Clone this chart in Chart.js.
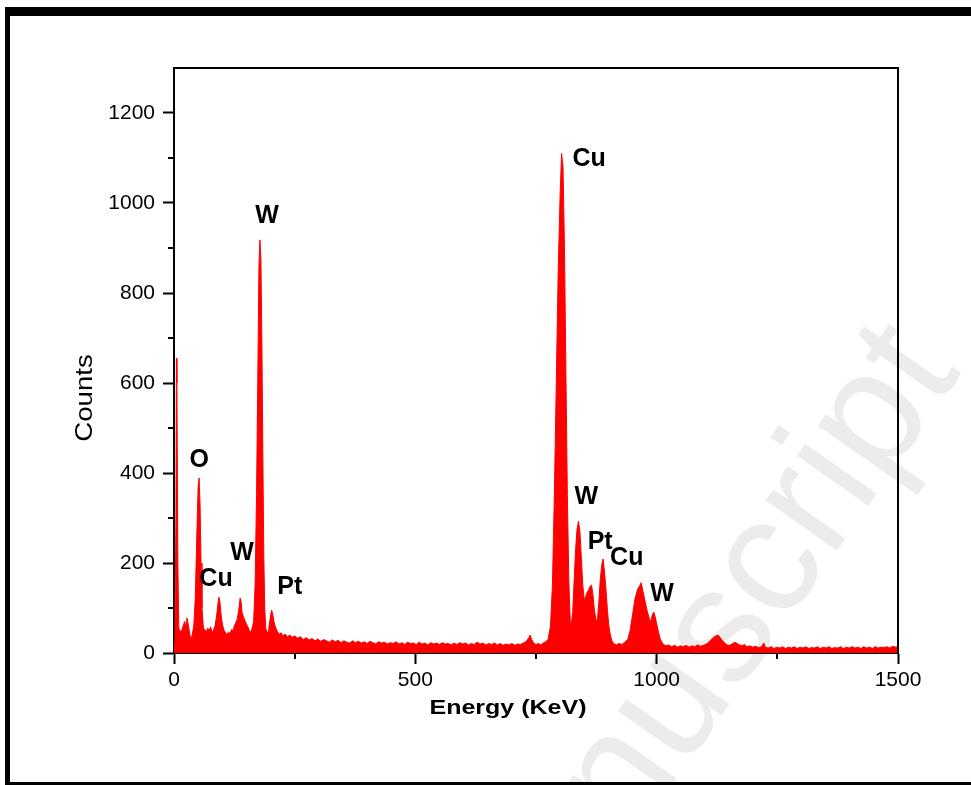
<!DOCTYPE html>
<html>
<head>
<meta charset="utf-8">
<title>EDS spectrum</title>
<script src="https://cdn.jsdelivr.net/npm/chart.js@4.4.1/dist/chart.umd.min.js"></script>
<style>
  html, body { margin: 0; padding: 0; background: #fff; }
  #wrap { position: relative; width: 971px; height: 785px; overflow: hidden; }
  #spectrum { position: absolute; left: 0; top: 0; }
  /* black page frame around the figure */
  #frame {
    position: absolute; left: 5px; top: 7px; width: 966px; height: 778px;
    box-sizing: border-box;
    border-left: 5px solid #000; border-top: 9px solid #000; border-bottom: 3px solid #000;
  }
</style>
</head>
<body>
<div id="wrap">
  <canvas id="spectrum" width="971" height="785"></canvas>
  <div id="frame"></div>
</div>
<script>
// spectrum: energy (KeV) and counts
const energyKeV = [
  0, 2, 4, 5, 6, 8, 10, 13, 16, 19, 22, 25, 27, 30, 33, 35, 38, 41, 44, 47, 50, 52, 54, 56, 58, 61,
  64, 67, 70, 73, 76, 79, 82, 85, 88, 91, 93, 95, 98, 101, 104, 107, 110, 113, 116, 119, 122, 125,
  128, 131, 134, 137, 139, 141, 144, 147, 150, 153, 156, 159, 162, 165, 168, 171, 174, 176, 178, 180,
  182, 184, 186, 188, 190, 193, 196, 199, 202, 204, 207, 210, 214, 218, 222, 226, 230, 235, 240, 245,
  250, 256, 262, 268, 274, 280, 286, 292, 298, 304, 310, 316, 322, 328, 334, 340, 346, 352, 358, 364,
  370, 376, 382, 388, 394, 400, 406, 412, 418, 424, 430, 436, 442, 448, 454, 460, 466, 472, 478, 484,
  490, 496, 502, 508, 514, 520, 526, 532, 538, 544, 550, 556, 562, 568, 574, 580, 586, 592, 598, 604,
  610, 616, 622, 628, 634, 640, 646, 652, 658, 664, 670, 676, 682, 688, 694, 700, 706, 712, 718, 724,
  730, 735, 738, 741, 745, 750, 755, 760, 765, 770, 775,
  780, 784, 788, 792, 796, 800, 803, 806, 809, 812, 815, 818, 821, 823, 826, 829, 832, 835, 838, 841,
  844, 847, 850, 853, 856, 859, 862, 865, 868, 871, 874, 877, 880, 883, 886, 889, 892, 895, 898, 901,
  904, 907, 910, 916, 922, 928, 934, 940, 945, 950, 955, 960, 965, 968, 971, 975, 980, 985, 988, 991,
  994, 997, 1000, 1004, 1008, 1013,
  1019, 1025, 1031, 1037, 1043, 1049, 1055, 1061, 1067, 1073, 1079, 1085, 1091, 1097, 1103, 1108, 1113,
  1118, 1123, 1127, 1131, 1136, 1141, 1146, 1151, 1156, 1162, 1167, 1172, 1177, 1182, 1187, 1193, 1199,
  1205, 1211, 1217, 1222, 1225, 1231, 1237, 1243, 1249, 1255, 1261, 1267, 1273, 1279, 1285, 1291, 1297,
  1303, 1309, 1315, 1321, 1327, 1333, 1339, 1345, 1351, 1357, 1363, 1369, 1375, 1381, 1387, 1393, 1399,
  1405, 1411, 1417, 1423, 1429, 1435, 1441, 1447, 1453, 1459, 1465, 1471, 1477, 1483, 1489, 1495, 1500
];
const counts = [
  20, 60, 300, 655, 600, 200, 55, 48, 50, 60, 70, 58, 78, 60, 40, 28, 42, 60, 120, 250, 370, 389, 330, 200, 100, 55,
  52, 48, 55, 50, 58, 45, 52, 60, 80, 110, 124, 115, 80, 60, 50, 45, 40, 47, 42, 52, 50, 60,
  68, 75, 95, 122, 115, 90, 80, 72, 65, 58, 50, 46, 55, 70, 150, 350, 650, 860, 918, 880,
  700, 450, 220, 100, 55, 45, 50, 75, 95, 90, 70, 58, 48, 42, 45, 38, 42, 36, 40, 35,
  38, 33, 36, 30, 34, 29, 32, 27, 31, 26, 30, 27, 24, 29, 25, 28, 23, 27, 24, 22,
  27, 23, 26, 22, 25, 21, 26, 23, 20, 25, 22, 24, 20, 23, 21, 25, 20, 23, 19, 24,
  21, 22, 19, 24, 20, 22, 18, 23, 20, 22, 19, 23, 20, 21, 18, 22, 19, 23, 20, 22,
  18, 21, 19, 24, 20, 22, 18, 21, 19, 22, 18, 21, 17, 20, 18, 21, 17, 20, 19, 22,
  26, 34, 40, 30, 22, 19, 21, 18, 22, 25, 30,
  60, 150, 350, 600, 850, 1020, 1110, 1080, 900, 620, 350, 160, 70, 60, 90, 160, 230, 275, 293, 270,
  210, 150, 118, 125, 135, 140, 148, 151, 130, 95, 75, 72, 110, 160, 195, 209, 180, 140, 95, 60,
  40, 28, 22, 18, 21, 19, 24, 30, 50, 85, 120, 140, 150, 156, 140, 120, 95, 75, 70, 85,
  91, 80, 65, 45, 30, 20,
  16, 18, 14, 17, 13, 16, 14, 17, 13, 16, 14, 18, 15, 17, 20, 24, 30,
  35, 38, 40, 35, 28, 22, 18, 17, 20, 24, 21, 18, 16, 19, 14, 16, 13,
  15, 12, 14, 22, 13, 11, 14, 10, 13, 11, 14, 10, 13, 11, 14, 10, 13,
  11, 14, 10, 12, 11, 14, 10, 13, 11, 14, 10, 12, 11, 14, 10, 13, 11,
  14, 11, 13, 10, 14, 11, 13, 10, 14, 11, 13, 12, 14, 11, 15, 13, 14
];

// axis ticks
const xMajorTicks = [0, 500, 1000, 1500];
const xMinorTicks = [250, 750, 1250];
const yMajorTicks = [0, 200, 400, 600, 800, 1000, 1200];
const yMinorTicks = [100, 300, 500, 700, 900, 1100];

// peak labels: element, energy, counts where the label sits
const peakNames  = ['O', 'Cu', 'W', 'Pt', 'W', 'Cu', 'W', 'Pt', 'Cu', 'W'];
const peakEnergy = [52, 87, 141, 240, 193, 860, 854, 883, 938, 1011];
const peakCounts = [429, 164, 222, 147, 971, 1098, 347, 247, 211, 131];

const FONT = '"Liberation Sans", Arial, Helvetica, sans-serif';

const spectrumPoints = energyKeV.map((e, i) => ({ x: e, y: counts[i] }));

const extras = {
    id: 'extras',
    beforeDraw(chart) {
        // faint journal watermark behind the plot
        const ctx = chart.ctx;
        ctx.save();
        ctx.translate(962, 372);
        ctx.rotate(-55 * Math.PI / 180);
        ctx.font = '165px ' + FONT;
        ctx.fillStyle = '#ececec';
        ctx.textAlign = 'right';
        ctx.textBaseline = 'alphabetic';
        ctx.fillText('Accepted Manuscript', 0, 0);
        ctx.restore();
    },
    afterDraw(chart) {
        const { ctx, chartArea: a } = chart;
        const xs = chart.scales.x;
        const ys = chart.scales.y;
        ctx.save();
        ctx.strokeStyle = '#000';
        ctx.lineWidth = 2;

        // closing box: top and right
        ctx.beginPath();
        ctx.moveTo(a.left - 1, a.top);
        ctx.lineTo(a.right, a.top);
        ctx.lineTo(a.right, a.bottom + 1);
        ctx.stroke();

        // minor ticks
        ctx.beginPath();
        yMinorTicks.forEach(v => {
            const py = Math.round(ys.getPixelForValue(v));
            ctx.moveTo(a.left - 6, py);
            ctx.lineTo(a.left, py);
        });
        xMinorTicks.forEach(v => {
            const px = Math.round(xs.getPixelForValue(v));
            ctx.moveTo(px, a.bottom);
            ctx.lineTo(px, a.bottom + 6);
        });
        ctx.stroke();

        // peak labels
        ctx.fillStyle = '#000';
        ctx.font = 'bold 25px ' + FONT;
        ctx.textAlign = 'center';
        ctx.textBaseline = 'middle';
        peakNames.forEach((name, i) => {
            ctx.fillText(name, xs.getPixelForValue(peakEnergy[i]), ys.getPixelForValue(peakCounts[i]));
        });

        // axis titles
        ctx.save();
        ctx.translate(508, 708);
        ctx.scale(1.19, 1);
        ctx.font = 'bold 21px ' + FONT;
        ctx.fillText('Energy (KeV)', 0, 0);
        ctx.restore();

        ctx.save();
        ctx.translate(86, 398);
        ctx.rotate(-Math.PI / 2);
        ctx.scale(1.2, 1);
        ctx.font = '23px ' + FONT;
        ctx.fillText('Counts', 0, 0);
        ctx.restore();

        ctx.restore();
    }
};

new Chart(document.getElementById('spectrum'), {
    type: 'line',
    data: {
        datasets: [{
            data: spectrumPoints,
            borderColor: '#ff0000',
            backgroundColor: '#ff0000',
            borderWidth: 1,
            fill: 'origin',
            pointRadius: 0,
            tension: 0
        }]
    },
    options: {
        responsive: false,
        animation: false,
        devicePixelRatio: 1,
        layout: { padding: { left: 71, right: 73, top: 68, bottom: 59 } },
        plugins: { legend: { display: false }, tooltip: { enabled: false } },
        scales: {
            x: {
                type: 'linear',
                min: 0,
                max: 1500,
                afterBuildTicks: s => { s.ticks = xMajorTicks.map(v => ({ value: v })); },
                afterFit: s => { s.height = 73; },
                ticks: {
                    color: '#000', font: { family: FONT, size: 21 }, padding: 4, maxRotation: 0,
                    callback: v => String(v)
                },
                grid: { drawOnChartArea: false, tickLength: 11, tickColor: '#000', tickWidth: 2 },
                border: { color: '#000', width: 2 }
            },
            y: {
                min: 0,
                max: 1300,
                afterBuildTicks: s => { s.ticks = yMajorTicks.map(v => ({ value: v })); },
                afterFit: s => { s.width = 103; },
                ticks: {
                    color: '#000', font: { family: FONT, size: 21 }, padding: 8,
                    callback: v => String(v)
                },
                grid: { drawOnChartArea: false, tickLength: 11, tickColor: '#000', tickWidth: 2 },
                border: { color: '#000', width: 2 }
            }
        }
    },
    plugins: [extras]
});
</script>
</body>
</html>
